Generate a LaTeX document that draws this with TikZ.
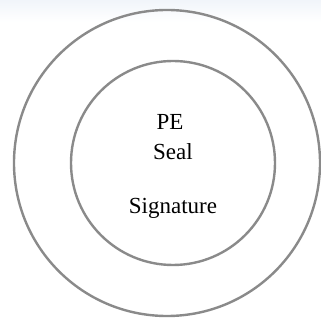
\documentclass[tikz,border=0pt]{standalone}
\usepackage{fontspec}
\setmainfont{Liberation Serif}
\usepackage{tikz}
\definecolor{ringgray}{HTML}{8a8a8a}
\definecolor{topband}{HTML}{f1f5fa}

\begin{document}
\begin{tikzpicture}[x=1pt,y=-1pt,
  ring/.style={circle,draw=ringgray,line width=2.4pt,inner sep=0pt},
  lbl/.style={font=\fontsize{23}{26}\selectfont,text=black,inner sep=0pt}
]
\useasboundingbox (0,0) rectangle (321,320);
\shade[top color=topband,bottom color=white] (0,0) rectangle (321,22);
\node[ring,minimum size=306pt] (outer) at (167,163) {};
\node[ring,minimum size=204pt] (inner) at (173,163) {};
\node[lbl] (pe) at (170,122) {PE};
\node[lbl] (seal) at (173,152) {Seal};
\node[lbl] (sign) at (173,208) {Signature};
\end{tikzpicture}
\end{document}
